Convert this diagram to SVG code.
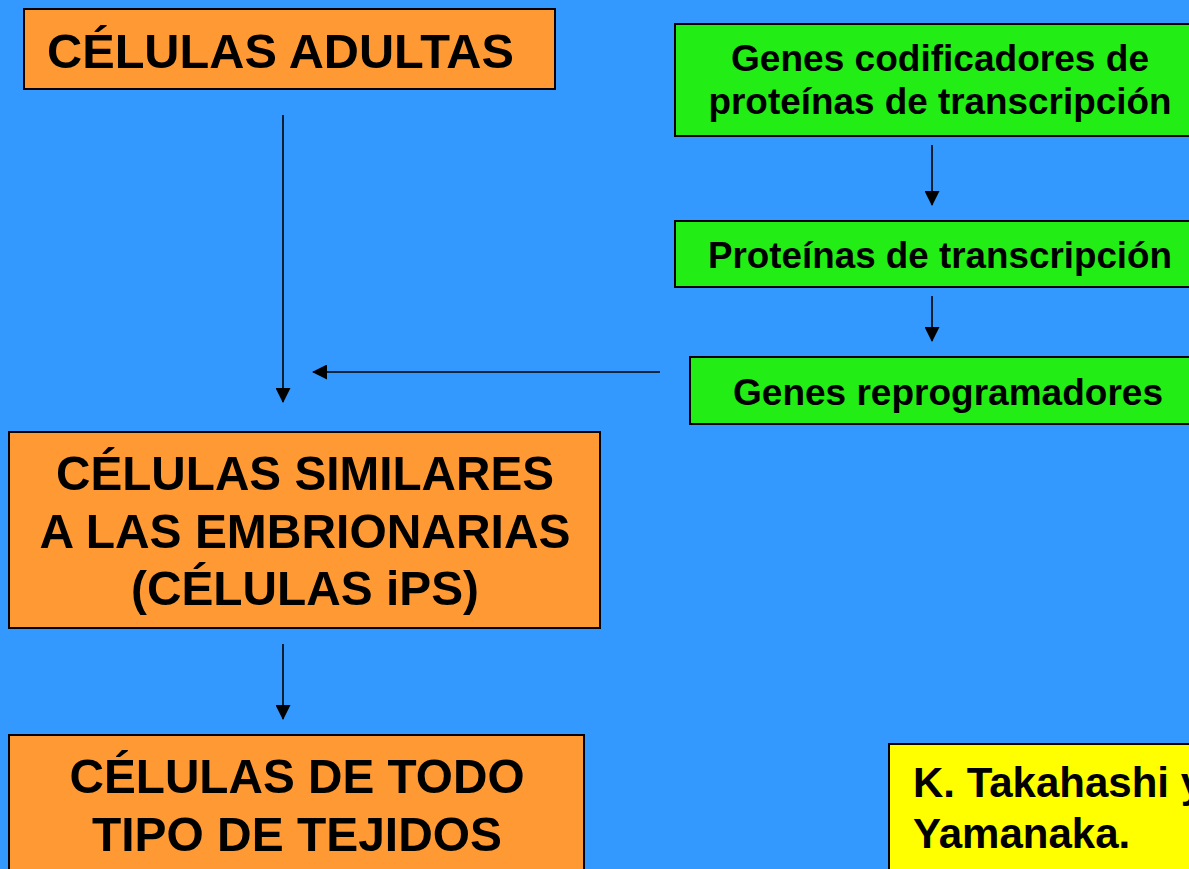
<svg xmlns="http://www.w3.org/2000/svg" width="1189" height="869" viewBox="0 0 1189 869">
<defs>
<style>
.orange{fill:#FF9933;stroke:#000;stroke-width:2}
.green{fill:#22EE15;stroke:#000;stroke-width:2}
.yellow{fill:#FFFF00;stroke:#000;stroke-width:2}
text{font-family:"Liberation Sans",Arial,sans-serif;font-weight:bold;fill:#000}
.big{font-size:49px}
.mid{font-size:36px}
.yel{font-size:42px}
.c{text-anchor:middle}
.conn line{stroke:#000;stroke-width:1.6;marker-end:url(#ah)}
</style>
<marker id="ah" markerUnits="userSpaceOnUse" markerWidth="15" markerHeight="15" refX="14" refY="7.5" orient="auto">
<path d="M0,0 L15,7.5 L0,15 z" fill="#000"/>
</marker>
</defs>
<rect width="1189" height="869" fill="#3399FF"/>
<g id="adultas">
<rect class="orange" x="24" y="9" width="531" height="80"/>
<text class="big" x="47" y="68" textLength="467" lengthAdjust="spacingAndGlyphs">CÉLULAS ADULTAS</text>
</g>
<g id="genes-codificadores">
<rect class="green" x="675" y="24" width="530" height="112"/>
<text class="mid c" x="940" y="71" textLength="418" lengthAdjust="spacingAndGlyphs">Genes codificadores de</text>
<text class="mid c" x="940" y="114" textLength="463" lengthAdjust="spacingAndGlyphs">proteínas de transcripción</text>
</g>
<g id="proteinas">
<rect class="green" x="675" y="221" width="530" height="66"/>
<text class="mid c" x="940" y="268" textLength="464" lengthAdjust="spacingAndGlyphs">Proteínas de transcripción</text>
</g>
<g id="reprogramadores">
<rect class="green" x="690" y="357" width="515" height="67"/>
<text class="mid c" x="948" y="405" textLength="430" lengthAdjust="spacingAndGlyphs">Genes reprogramadores</text>
</g>
<g id="ips">
<rect class="orange" x="9" y="432" width="591" height="196"/>
<text class="big c" x="305" y="490" textLength="498" lengthAdjust="spacingAndGlyphs">CÉLULAS SIMILARES</text>
<text class="big c" x="305" y="548" textLength="531" lengthAdjust="spacingAndGlyphs">A LAS EMBRIONARIAS</text>
<text class="big c" x="305" y="605" textLength="348" lengthAdjust="spacingAndGlyphs">(CÉLULAS iPS)</text>
</g>
<g id="tejidos">
<rect class="orange" x="9" y="735" width="575" height="150"/>
<text class="big c" x="297" y="793" textLength="455" lengthAdjust="spacingAndGlyphs">CÉLULAS DE TODO</text>
<text class="big c" x="297" y="851" textLength="410" lengthAdjust="spacingAndGlyphs">TIPO DE TEJIDOS</text>
</g>
<g id="autores">
<rect class="yellow" x="889" y="744" width="320" height="140"/>
<text class="yel" x="913" y="797">K. Takahashi y</text>
<text class="yel" x="913" y="848">Yamanaka.</text>
</g>
<g id="connectors" class="conn">
<line x1="283" y1="115" x2="283" y2="402"/>
<line x1="660" y1="372" x2="313" y2="372"/>
<line x1="932" y1="145" x2="932" y2="205"/>
<line x1="932" y1="296" x2="932" y2="341"/>
<line x1="283" y1="644" x2="283" y2="719"/>
</g>
</svg>
